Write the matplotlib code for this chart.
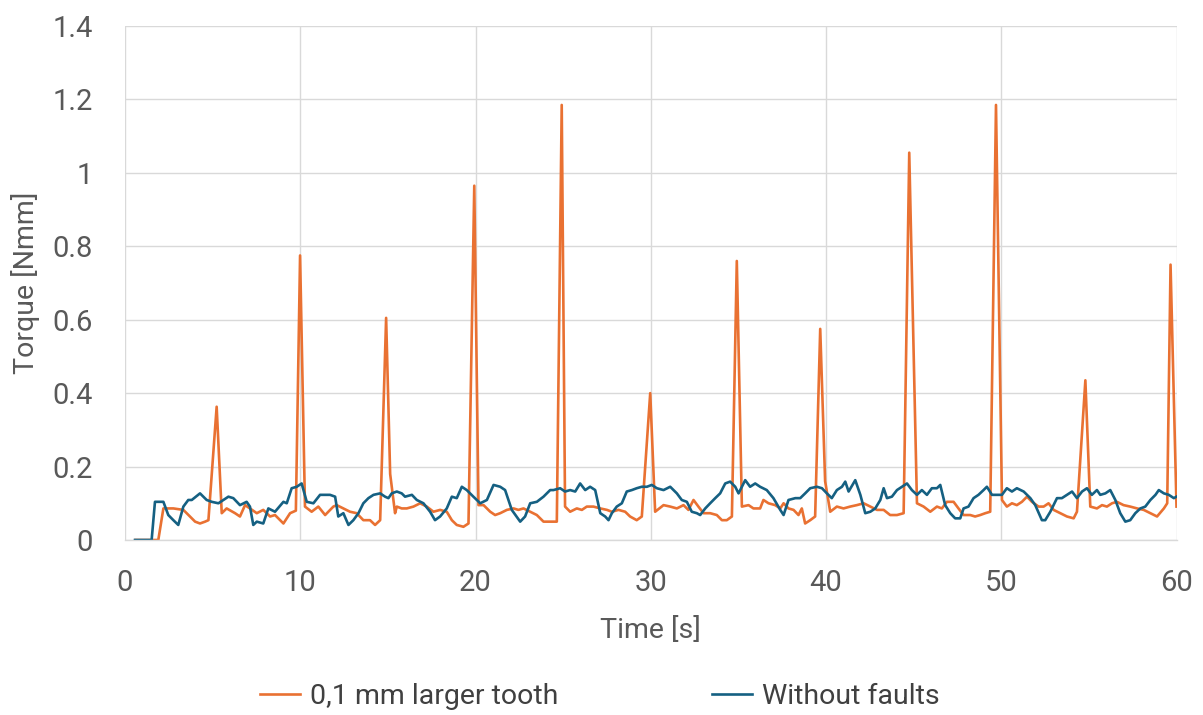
import matplotlib
matplotlib.use("Agg")
import matplotlib.pyplot as plt

plt.rcParams['font.family'] = ['Roboto', 'DejaVu Sans']

# ---- data ----
time_fault = [0.6, 1.9, 2.19, 2.76, 3.33, 3.52, 4.0, 4.28, 4.57, 4.76, 5.23, 5.52, 5.80, 6.28, 6.56,
              6.85, 7.13, 7.52, 7.89, 8.28, 8.56, 9.04, 9.42, 9.75, 9.99, 10.27, 10.65, 11.03, 11.42,
              11.89, 12.08, 12.46, 12.84, 13.22, 13.60, 13.98, 14.27, 14.56, 14.90, 15.13, 15.41,
              15.51, 15.79, 16.08, 16.46, 16.84, 17.22, 17.60, 17.98, 18.36, 18.65, 18.93, 19.31,
              19.60, 19.93, 20.17, 20.46, 20.84, 21.12, 21.41, 21.79, 22.17, 22.45, 22.74, 23.12,
              23.50, 23.88, 24.26, 24.64, 24.92, 25.11, 25.40, 25.78, 26.07, 26.35, 26.73, 27.12,
              27.50, 27.78, 28.16, 28.54, 28.82, 29.20, 29.49, 29.97, 30.25, 30.73, 31.11, 31.49,
              31.87, 32.15, 32.44, 32.72, 33.01, 33.39, 33.77, 34.06, 34.34, 34.63, 34.91, 35.20,
              35.58, 35.86, 36.24, 36.43, 36.72, 37.10, 37.39, 37.58, 37.86, 38.15, 38.43, 38.62,
              38.81, 39.10, 39.38, 39.67, 39.95, 40.24, 40.62, 41.00, 41.38, 41.76, 42.15, 42.53,
              42.91, 43.29, 43.66, 44.05, 44.43, 44.75, 45.19, 45.57, 45.95, 46.33, 46.61, 46.90,
              47.28, 47.56, 47.85, 48.23, 48.51, 48.80, 49.09, 49.37, 49.70, 50.04, 50.32, 50.61,
              50.89, 51.18, 51.47, 51.75, 52.13, 52.42, 52.70, 52.99, 53.37, 53.75, 54.13, 54.32,
              54.80, 55.08, 55.46, 55.75, 56.03, 56.32, 56.60, 56.98, 57.36, 57.75, 58.13, 58.51,
              58.89, 59.28, 59.47, 59.66, 60.0]
torque_fault = [0.0, 0.0, 0.086, 0.086, 0.082, 0.073, 0.050, 0.045, 0.050, 0.054, 0.363, 0.073, 0.086,
                0.073, 0.064, 0.095, 0.086, 0.073, 0.082, 0.064, 0.068, 0.045, 0.073, 0.080, 0.775,
                0.091, 0.077, 0.091, 0.068, 0.091, 0.095, 0.086, 0.077, 0.073, 0.054, 0.054, 0.041,
                0.054, 0.605, 0.18, 0.073, 0.091, 0.086, 0.086, 0.091, 0.100, 0.091, 0.077, 0.082,
                0.077, 0.054, 0.041, 0.036, 0.045, 0.965, 0.095, 0.095, 0.077, 0.068, 0.073, 0.082,
                0.086, 0.082, 0.086, 0.077, 0.068, 0.050, 0.050, 0.050, 1.185, 0.091, 0.077, 0.086,
                0.082, 0.091, 0.091, 0.086, 0.082, 0.077, 0.082, 0.077, 0.064, 0.054, 0.064, 0.400,
                0.077, 0.095, 0.091, 0.086, 0.095, 0.082, 0.109, 0.091, 0.073, 0.073, 0.068, 0.054,
                0.054, 0.064, 0.760, 0.091, 0.095, 0.086, 0.086, 0.109, 0.100, 0.095, 0.086, 0.100,
                0.086, 0.082, 0.068, 0.086, 0.045, 0.054, 0.064, 0.575, 0.16, 0.077, 0.091, 0.086,
                0.091, 0.095, 0.100, 0.091, 0.082, 0.082, 0.068, 0.068, 0.073, 1.055, 0.100, 0.091,
                0.077, 0.091, 0.086, 0.104, 0.104, 0.086, 0.068, 0.068, 0.064, 0.068, 0.073, 0.077,
                1.185, 0.109, 0.091, 0.100, 0.095, 0.104, 0.118, 0.104, 0.091, 0.091, 0.100, 0.082,
                0.073, 0.064, 0.059, 0.077, 0.435, 0.091, 0.086, 0.095, 0.091, 0.100, 0.104, 0.095,
                0.091, 0.086, 0.082, 0.073, 0.064, 0.086, 0.100, 0.750, 0.091]

time_ok = [0.57, 1.52, 1.71, 2.19, 2.47, 2.76, 3.04, 3.33, 3.61, 3.81, 4.28, 4.66, 4.95, 5.33, 5.90,
           6.18, 6.56, 6.94, 7.13, 7.32, 7.52, 7.89, 8.18, 8.56, 9.04, 9.23, 9.51, 9.80, 10.08, 10.37,
           10.75, 11.13, 11.70, 11.99, 12.17, 12.46, 12.75, 13.03, 13.32, 13.60, 13.89, 14.18, 14.56,
           14.84, 15.03, 15.22, 15.51, 15.79, 15.98, 16.37, 16.65, 17.03, 17.41, 17.69, 17.98, 18.36,
           18.65, 18.93, 19.22, 19.50, 19.88, 20.27, 20.65, 21.03, 21.41, 21.69, 22.07, 22.55, 22.83,
           23.12, 23.50, 23.88, 24.26, 24.45, 24.83, 25.11, 25.40, 25.69, 25.97, 26.26, 26.54, 26.83,
           27.12, 27.40, 27.59, 27.78, 28.06, 28.35, 28.63, 28.92, 29.20, 29.49, 29.78, 30.06, 30.35,
           30.73, 31.11, 31.49, 31.77, 32.06, 32.34, 32.63, 32.82, 33.11, 33.39, 33.68, 33.96, 34.25,
           34.53, 34.82, 35.01, 35.39, 35.67, 35.96, 36.24, 36.62, 37.00, 37.39, 37.58, 37.86, 38.25,
           38.53, 38.81, 39.10, 39.48, 39.77, 40.05, 40.33, 40.62, 40.91, 41.10, 41.29, 41.67, 41.96,
           42.24, 42.53, 42.81, 43.10, 43.29, 43.48, 43.76, 44.05, 44.33, 44.62, 44.90, 45.19, 45.47,
           45.76, 46.04, 46.33, 46.52, 46.80, 47.09, 47.37, 47.66, 47.85, 48.13, 48.42, 48.70, 48.99,
           49.18, 49.47, 49.75, 50.04, 50.32, 50.61, 50.89, 51.28, 51.66, 51.94, 52.32, 52.51, 52.80,
           53.18, 53.46, 53.75, 54.04, 54.32, 54.61, 54.89, 55.17, 55.46, 55.65, 55.94, 56.22, 56.51,
           56.79, 57.08, 57.36, 57.65, 57.94, 58.22, 58.51, 58.80, 58.99, 59.28, 59.56, 59.85, 60.0]
torque_ok = [0.0, 0.0, 0.104, 0.104, 0.068, 0.054, 0.041, 0.091, 0.109, 0.109, 0.127, 0.109, 0.104,
             0.100, 0.118, 0.114, 0.095, 0.104, 0.091, 0.041, 0.050, 0.045, 0.086, 0.077, 0.104,
             0.100, 0.141, 0.145, 0.154, 0.104, 0.100, 0.123, 0.123, 0.118, 0.064, 0.073, 0.041,
             0.054, 0.073, 0.100, 0.114, 0.123, 0.127, 0.118, 0.114, 0.127, 0.132, 0.127, 0.118,
             0.123, 0.109, 0.100, 0.077, 0.054, 0.064, 0.086, 0.118, 0.114, 0.145, 0.136, 0.118,
             0.100, 0.109, 0.150, 0.145, 0.136, 0.082, 0.050, 0.064, 0.100, 0.104, 0.118, 0.136,
             0.136, 0.141, 0.132, 0.136, 0.132, 0.154, 0.136, 0.145, 0.136, 0.073, 0.064, 0.054,
             0.073, 0.091, 0.100, 0.132, 0.136, 0.141, 0.145, 0.145, 0.150, 0.141, 0.136, 0.145,
             0.127, 0.109, 0.104, 0.077, 0.073, 0.068, 0.086, 0.100, 0.114, 0.127, 0.154, 0.159,
             0.145, 0.127, 0.163, 0.145, 0.154, 0.145, 0.136, 0.114, 0.082, 0.068, 0.109, 0.114,
             0.114, 0.127, 0.141, 0.145, 0.141, 0.127, 0.114, 0.136, 0.145, 0.159, 0.132, 0.163,
             0.123, 0.073, 0.077, 0.086, 0.109, 0.141, 0.114, 0.118, 0.136, 0.145, 0.154, 0.136,
             0.123, 0.136, 0.123, 0.141, 0.141, 0.150, 0.095, 0.073, 0.059, 0.059, 0.086, 0.091,
             0.114, 0.123, 0.136, 0.145, 0.123, 0.123, 0.123, 0.141, 0.132, 0.141, 0.132, 0.114,
             0.095, 0.054, 0.054, 0.077, 0.114, 0.114, 0.123, 0.132, 0.114, 0.132, 0.141, 0.123,
             0.136, 0.123, 0.127, 0.136, 0.109, 0.073, 0.050, 0.054, 0.073, 0.086, 0.091, 0.109,
             0.123, 0.136, 0.127, 0.123, 0.114, 0.118]

series_labels = ["0,1 mm larger tooth", "Without faults"]
x_ticks = [0, 10, 20, 30, 40, 50, 60]
y_ticks = [0, 0.2, 0.4, 0.6, 0.8, 1.0, 1.2, 1.4]
y_tick_labels = ["0", "0.2", "0.4", "0.6", "0.8", "1", "1.2", "1.4"]
x_label = "Time [s]"
y_label = "Torque [Nmm]"

# ---- figure ----
W, H = 1203, 715
fig = plt.figure(figsize=(W / 100, H / 100), dpi=100)
ax = fig.add_axes([125 / W, 1 - 540 / H, (1176.5 - 125) / W, (540 - 26) / H])

txt = "#595959"
grid_c = "#D9D9D9"

l1, = ax.plot(time_fault, torque_fault, color="#E97132", lw=1.9, label=series_labels[0],
              solid_joinstyle="round")
l2, = ax.plot(time_ok, torque_ok, color="#156082", lw=1.9, label=series_labels[1],
              solid_joinstyle="round")

ax.set_xlim(0, 60)
ax.set_ylim(0, 1.4)
ax.set_xticks(x_ticks)
ax.set_yticks(y_ticks)
ax.set_yticklabels(y_tick_labels)
ax.grid(True, color=grid_c, lw=1.0)
ax.set_axisbelow(True)
for s in ["top", "right", "left"]:
    ax.spines[s].set_visible(False)
ax.spines["bottom"].set_color(grid_c)
ax.spines["bottom"].set_linewidth(1.0)
ax.tick_params(axis="both", length=0, labelsize=21, colors=txt)
ax.tick_params(axis="y", pad=23)
ax.tick_params(axis="x", pad=21)

ax.set_xlabel(x_label, fontsize=20.5, color=txt, labelpad=14)
ax.set_ylabel(y_label, fontsize=20.5, color=txt, labelpad=9)

leg = fig.legend(handles=[l1, l2], loc="center", bbox_to_anchor=(600 / W, 1 - 696 / H),
                 ncol=2, frameon=False, fontsize=20.5, handlelength=1.4, handletextpad=0.35,
                 columnspacing=5.4, labelcolor="#404040", borderpad=0.0)

fig.savefig("out.png", dpi=100, facecolor="white")
